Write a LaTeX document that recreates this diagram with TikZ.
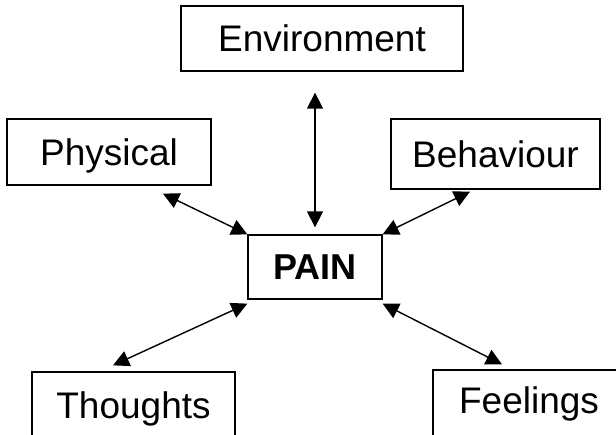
\documentclass[tikz,border=0pt]{standalone}
\usepackage{fontspec}
\setmainfont{Liberation Sans}
\usetikzlibrary{arrows.meta}

\begin{document}
\begin{tikzpicture}[x=1pt, y=-1pt,
    box/.style={draw=black, line width=1.3pt, fill=white, inner sep=0pt,
        font=\fontsize{37pt}{44pt}\selectfont, text height=26.5pt, text depth=0pt},
    link/.style={{Triangle[length=16pt,width=16pt]}-{Triangle[length=16pt,width=16pt]}, line width=1.4pt}]
    \useasboundingbox (0,0) rectangle (616,434);
    \clip (0,0) rectangle (616,434);

    % Factor boxes around the centre
    \node[box, minimum width=282pt, minimum height=65pt] (env) at (322,38.5) {Environment};
    \node[box, minimum width=204pt, minimum height=66pt] (phys) at (109,152) {Physical};
    \node[box, minimum width=209pt, minimum height=70pt] (behav) at (495.5,154) {Behaviour};
    \node[box, minimum width=203pt, minimum height=66pt] (thoughts) at (133.5,405) {Thoughts};
    \node[box, minimum width=192pt, minimum height=80pt, text depth=19pt] (feelings) at (529,410) {Feelings};

    % Centre box
    \node[box, minimum width=134pt, minimum height=64pt, font=\fontsize{36pt}{43pt}\selectfont\bfseries,
        text height=25.8pt] (pain) at (315,267) {PAIN};

    % Two-way arrows to the centre
    \draw[link] ([yshift=-21pt]env.south -| pain.north) -- ([yshift=7pt]pain.north);
    \draw[link] ([xshift=54pt,yshift=-8pt]phys.south) -- (pain.north west);
    \draw[link] ([xshift=-25.5pt,yshift=-2pt]behav.south) -- (pain.north east);
    \draw[link] ([xshift=-20.5pt,yshift=6pt]thoughts.north) -- ([yshift=-4pt]pain.south west);
    \draw[link] ([xshift=-27pt,yshift=5pt]feelings.north) -- ([yshift=-4pt]pain.south east);

\end{tikzpicture}
\end{document}
